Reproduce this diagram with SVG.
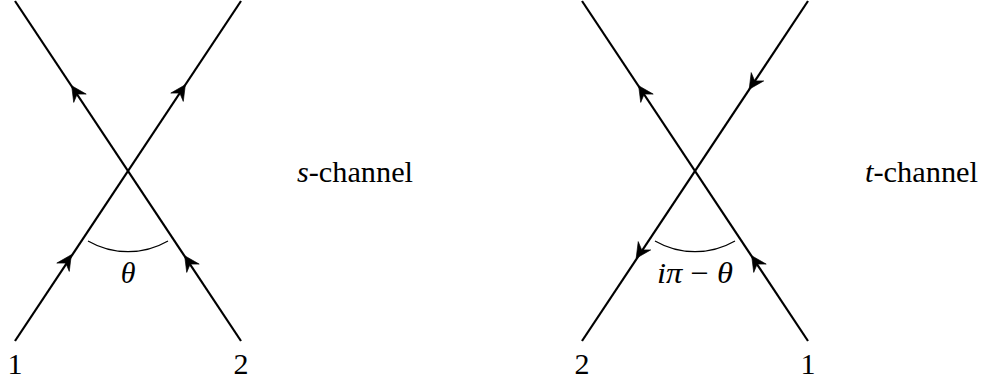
<svg xmlns="http://www.w3.org/2000/svg" xmlns:xlink="http://www.w3.org/1999/xlink" width="984" height="383" viewBox="0 0 984 383">
<style>
.ln{stroke:#000;stroke-width:2.2;fill:none;stroke-linecap:butt}
.arc{stroke:#000;stroke-width:1.2;fill:none}
text{font-family:'Liberation Serif','DejaVu Serif',serif;font-size:30px;fill:#000}
.i{font-style:italic}
</style>
<defs>
<path id="ah" d="M1.5,0 L-13.5,-7.5 L-8.5,0 L-13.5,7.5 Z" fill="#000" stroke="#000" stroke-width="0.6" stroke-linejoin="round"/>
</defs>
<rect width="984" height="383" fill="#fff"/>
<g id="connectors">
<g id="s-lines">
<line class="ln" x1="15" y1="341" x2="241" y2="1"/>
<line class="ln" x1="241" y1="341" x2="15" y2="1"/>
<use xlink:href="#ah" transform="translate(70.5,256) rotate(-56.4)"/>
<use xlink:href="#ah" transform="translate(184.5,86) rotate(-56.4)"/>
<use xlink:href="#ah" transform="translate(185.5,257) rotate(-123.6)"/>
<use xlink:href="#ah" transform="translate(72.5,87) rotate(-123.6)"/>
<path class="arc" d="M88,241 A80,80 0 0,0 168,241"/>
</g>
<g id="t-lines">
<line class="ln" x1="582" y1="341" x2="808" y2="1"/>
<line class="ln" x1="808" y1="341" x2="582" y2="1"/>
<use xlink:href="#ah" transform="translate(637,257) rotate(123.6)"/>
<use xlink:href="#ah" transform="translate(750,88) rotate(123.6)"/>
<use xlink:href="#ah" transform="translate(752.5,257) rotate(-123.6)"/>
<use xlink:href="#ah" transform="translate(639.5,87) rotate(-123.6)"/>
<path class="arc" d="M655,241 A80,80 0 0,0 735,241"/>
</g>
</g>
<g id="s-channel">
<text x="15" y="374" text-anchor="middle">1</text>
<text x="241" y="374" text-anchor="middle">2</text>
<text class="i" x="128" y="283" text-anchor="middle">θ</text>
<text x="297" y="182" textLength="116" lengthAdjust="spacingAndGlyphs"><tspan class="i">s</tspan>-channel</text>
</g>
<g id="t-channel">
<text x="582" y="374" text-anchor="middle">2</text>
<text x="808" y="374" text-anchor="middle">1</text>
<text x="657" y="283" textLength="76" lengthAdjust="spacingAndGlyphs"><tspan class="i">iπ</tspan> − <tspan class="i">θ</tspan></text>
<text x="865" y="182" textLength="113" lengthAdjust="spacingAndGlyphs"><tspan class="i">t</tspan>-channel</text>
</g>
</svg>
